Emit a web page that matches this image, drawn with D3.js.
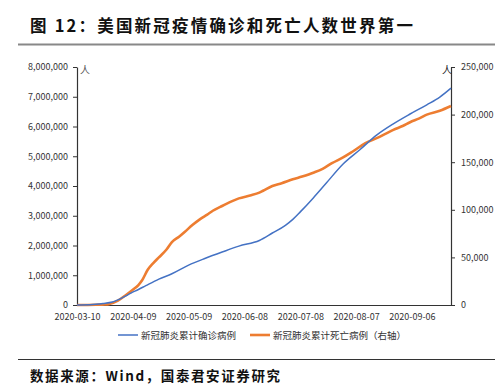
<!DOCTYPE html>
<html><head><meta charset="utf-8">
<script src="https://cdn.jsdelivr.net/npm/d3@7"></script>
<style>body{margin:0;background:#fff;}svg{display:block;}</style>
</head><body>
<svg id="c" width="504" height="390"></svg>
<script>
const title = "图 12：美国新冠疫情确诊和死亡人数世界第一";
const source = "数据来源：Wind，国泰君安证券研究";
const seriesNames = ["新冠肺炎累计确诊病例", "新冠肺炎累计死亡病例（右轴）"];
const startDate = "2020-03-10";
const xTickLabels = ["2020-03-10","2020-04-09","2020-05-09","2020-06-08","2020-07-08","2020-08-07","2020-09-06"];
const leftTicks = [0,1000000,2000000,3000000,4000000,5000000,6000000,7000000,8000000];
const rightTicks = [0,50000,100000,150000,200000,250000];
// day offset from 2020-03-10
const confirmedDays = [0,7,14,19,26,29,33,37,44,51,60,69,78,87,98,105,112,116,120,127,134,143,152,161,170,179,188,195,201];
const confirmedVals = [1000,8000,50000,100000,300000,400000,520000,650000,870000,1050000,1340000,1570000,1780000,1980000,2170000,2420000,2680000,2880000,3130000,3600000,4100000,4740000,5220000,5710000,6090000,6420000,6730000,6990000,7290000];
const deathDays = [0,10,15,17,22,26,30,33,35,38,41,44,48,51,55,58,62,66,70,73,77,80,87,93,98,100,105,110,116,121,127,132,137,143,148,155,162,166,170,175,179,184,188,195,201];
const deathVals = [30,300,600,900,4500,10000,16000,21000,26000,37000,44000,50000,58000,66000,72000,77000,84000,90000,95000,99000,103000,106000,112000,115000,118000,120000,125000,128000,132000,135000,139000,143000,149000,155000,161000,170000,176000,180000,184000,188000,192000,196000,200000,204000,209000];

const svg = d3.select("#c");
const font = "'Noto Sans CJK SC', 'Noto Sans', sans-serif";
const parse = d3.timeParse("%Y-%m-%d");
const d0 = parse(startDate);
const dayToDate = d => d3.timeDay.offset(d0, d);

const L = 77, R = 451, T = 67, B = 305;
const x = d3.scaleTime().domain([d0, dayToDate(201)]).range([L, R]);
const yL = d3.scaleLinear().domain([0, 8000000]).range([B, T]);
const yR = d3.scaleLinear().domain([0, 250000]).range([B, T]);

// title
svg.append("text").attr("x", 30).attr("y", 32).attr("font-family", font).attr("font-weight", "bold")
  .attr("font-size", 16.5).attr("letter-spacing", "2.2px").attr("fill", "#111").text(title);
svg.append("line").attr("x1", 18).attr("x2", 495).attr("y1", 44.5).attr("y2", 44.5)
  .attr("stroke", "#888").attr("stroke-width", 2);

// axes
const fmt = d3.format(",");
const gL = svg.append("g").attr("transform", `translate(${L},0)`)
  .call(d3.axisLeft(yL).tickValues(leftTicks).tickFormat(fmt).tickSize(4).tickSizeOuter(0));
const gR = svg.append("g").attr("transform", `translate(${R},0)`)
  .call(d3.axisRight(yR).tickValues(rightTicks).tickFormat(fmt).tickSize(4).tickSizeOuter(0));
const gX = svg.append("g").attr("transform", `translate(0,${B})`)
  .call(d3.axisBottom(x).tickValues(xTickLabels.map(parse)).tickFormat(d3.timeFormat("%Y-%m-%d")).tickSize(0).tickSizeOuter(0));
[gL, gR, gX].forEach(g => {
  g.selectAll("path").attr("stroke", "#333").attr("stroke-width", 1.2);
  g.selectAll("line").attr("stroke", "#333");
  g.selectAll("text").attr("font-family", font).attr("font-size", 9).attr("fill", "#333");
});
gX.selectAll("text").attr("y", 9).attr("dy", "0.71em");
gL.selectAll("text").attr("dx", "-2");
gR.selectAll("text").attr("dx", "3");

svg.append("text").attr("x", 80).attr("y", 74).attr("font-family", font).attr("font-size", 10).attr("fill", "#555").text("人");
svg.append("text").attr("x", 442).attr("y", 74).attr("font-family", font).attr("font-size", 10).attr("fill", "#222").text("人");

// lines
const lineC = d3.line().x((d, i) => x(dayToDate(confirmedDays[i]))).y(d => yL(d)).curve(d3.curveMonotoneX);
const lineD = d3.line().x((d, i) => x(dayToDate(deathDays[i]))).y(d => yR(d)).curve(d3.curveMonotoneX);
svg.append("path").attr("d", lineD(deathVals)).attr("fill", "none").attr("stroke", "#ED7D31").attr("stroke-width", 2.6);
svg.append("path").attr("d", lineC(confirmedVals)).attr("fill", "none").attr("stroke", "#4472C4").attr("stroke-width", 1.5);

// legend
const colors = ["#4472C4", "#ED7D31"];
const lx = [118, 250];
seriesNames.forEach((n, i) => {
  svg.append("line").attr("x1", lx[i]).attr("x2", lx[i] + 20).attr("y1", 335).attr("y2", 335)
    .attr("stroke", colors[i]).attr("stroke-width", i ? 2.6 : 1.5);
  svg.append("text").attr("x", lx[i] + 23).attr("y", 338.5).attr("font-family", font).attr("font-size", 9.5)
    .attr("fill", "#333").text(n);
});

// bottom
svg.append("line").attr("x1", 18).attr("x2", 495).attr("y1", 359.5).attr("y2", 359.5).attr("stroke", "#333").attr("stroke-width", 1);
svg.append("text").attr("x", 30).attr("y", 381).attr("font-family", font).attr("font-weight", "bold")
  .attr("font-size", 13.5).attr("letter-spacing", "1.6px").attr("fill", "#111").text(source);
</script>
</body></html>
